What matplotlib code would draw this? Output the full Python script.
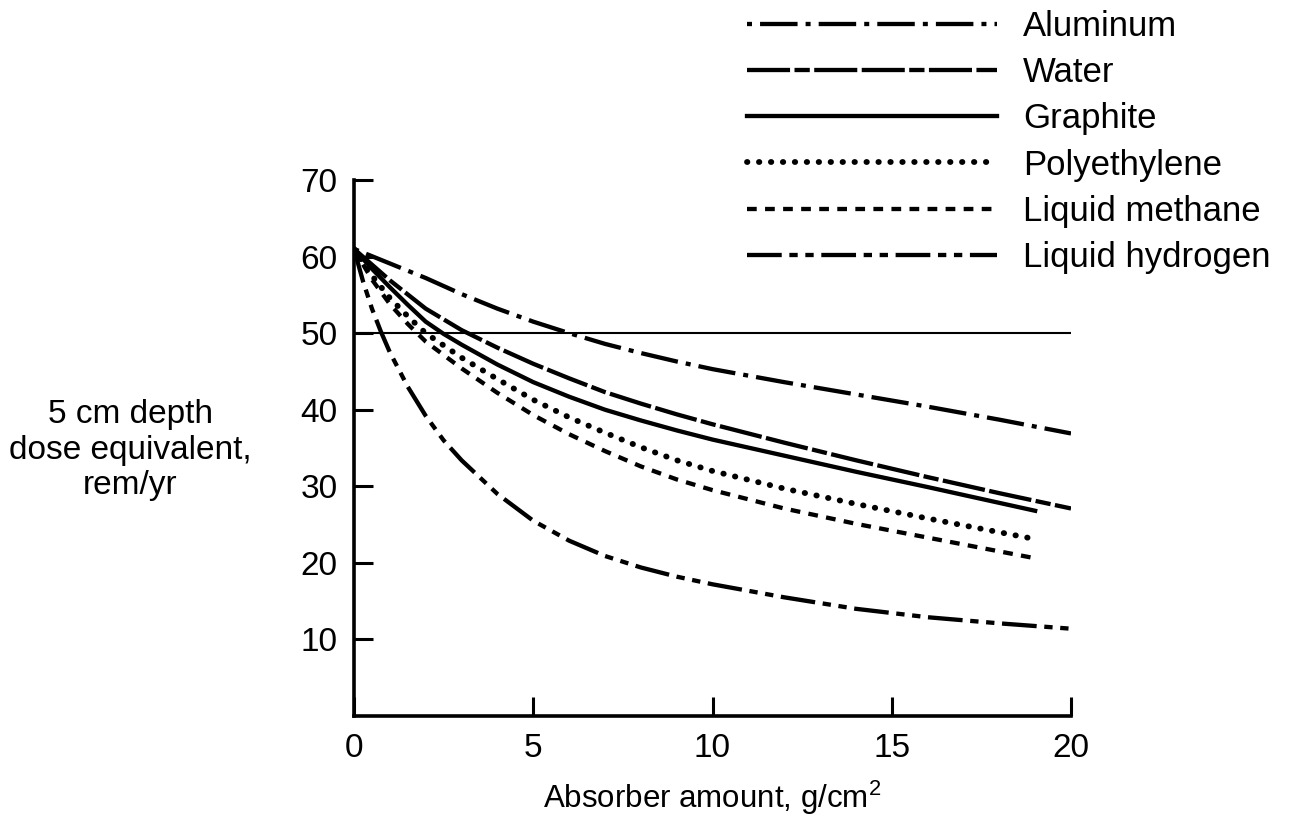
import numpy as np
import matplotlib.pyplot as plt

plt.rcParams['font.family'] = ['Liberation Sans', 'DejaVu Sans']
plt.rcParams['mathtext.default'] = 'regular'
plt.rcParams['lines.scale_dashes'] = False

# values (absorber g/cm2 -> rem/yr)
x_al = [0, 1, 2, 3, 4, 5, 6, 7, 8, 9, 10, 12, 14, 16, 18, 20]
y_al = [61, 59.1, 57.2, 55.1, 53.2, 51.5, 50.0, 48.6, 47.4, 46.3, 45.3, 43.6, 42.0, 40.4, 38.7, 36.9]

x_water = [0, 1, 2, 3, 4, 5, 6, 7, 8, 9, 10, 12, 14, 16, 18, 20]
y_water = [61, 56.9, 53.2, 50.4, 48.1, 46.0, 44.1, 42.3, 40.8, 39.4, 38.1, 35.7, 33.4, 31.2, 29.1, 27.1]

x_graph = [0, 0.5, 1, 1.5, 2, 2.5, 3, 4, 5, 6, 7, 8, 9, 10, 12, 14, 16, 19]
y_graph = [61, 58.4, 56.0, 53.7, 51.5, 49.9, 48.5, 45.9, 43.6, 41.7, 40.0, 38.6, 37.3, 36.1, 34.0, 31.9, 29.9, 26.8]

x_poly = [0, 0.5, 1, 1.5, 2, 3, 4, 5, 6, 7, 8, 9, 10, 12, 14, 16, 19]
y_poly = [61, 57.5, 54.6, 52.2, 50.0, 46.8, 44.0, 41.3, 39.0, 37.0, 35.1, 33.4, 32.0, 29.7, 27.7, 25.8, 23.1]

x_meth = [0, 0.5, 1, 1.5, 2, 3, 4, 5, 6, 7, 8, 9, 10, 12, 14, 16, 19]
y_meth = [61, 57, 53.8, 51.2, 48.9, 45.4, 42.2, 39.3, 36.8, 34.6, 32.6, 30.9, 29.5, 27.1, 25.1, 23.3, 20.6]

x_h2 = [0, 0.25, 0.5, 0.75, 1, 1.5, 2, 2.5, 3, 4, 5, 6, 7, 8, 9, 10, 12, 14, 16, 18, 20]
y_h2 = [61, 56.8, 53.2, 50.2, 47.5, 43.0, 39.2, 36.0, 33.4, 29.0, 25.5, 22.9, 20.9, 19.4, 18.2, 17.2, 15.5, 14.0, 12.9, 12.1, 11.4]

limit = 50

fig = plt.figure(figsize=(12.89, 8.21), dpi=100)
ax = fig.add_axes([354/1289, 1-716/821, (1071-354)/1289, (716-180)/821])

lw = 3.1
ax.plot(x_al, y_al, color='black', lw=lw, dashes=(3.6, 5.8, 27, 5.8), label='Aluminum')
ax.plot(x_water, y_water, color='black', lw=lw, dashes=(31, 3.2, 11, 3.2, 31, 3.2), label='Water')
ax.plot(x_graph, y_graph, color='black', lw=lw, label='Graphite')
ax.plot(x_poly, y_poly, color='black', lw=4.2, dashes=(0.3, 8.3), dash_capstyle='round',
        label='Polyethylene')
ax.plot(x_meth, y_meth, color='black', lw=lw, dashes=(7, 6), label='Liquid methane')
ax.plot(x_h2, y_h2, color='black', lw=lw, dashes=(25, 5.5, 6, 5.5, 6, 5.5), label='Liquid hydrogen')
ax.plot([0, 20], [limit, limit], color='black', lw=1.5)

ax.set_xlim(0, 20)
ax.set_ylim(0, 70)
ax.set_xticks([0, 5, 10, 15, 20])
ax.set_yticks([10, 20, 30, 40, 50, 60, 70])
for s in ['top', 'right']:
    ax.spines[s].set_visible(False)
for s in ['left', 'bottom']:
    ax.spines[s].set_linewidth(2.6)
ax.tick_params(direction='in', length=14, width=2.2, labelsize=24, pad=12)

ax.set_xlabel('Absorber amount, g/cm$^2$', fontsize=22.5, labelpad=11)
fig.text(130/1289, 1-450/821, '5 cm depth\ndose equivalent,\nrem/yr', fontsize=24,
         ha='center', va='center', linespacing=1.2)

fig.legend(loc='upper left', bbox_to_anchor=(747/1289, 1-10/821), frameon=False,
           fontsize=25, handlelength=7.2, handletextpad=0.75, labelspacing=0.38,
           borderpad=0, borderaxespad=0)

fig.savefig('out.png', dpi=100)
